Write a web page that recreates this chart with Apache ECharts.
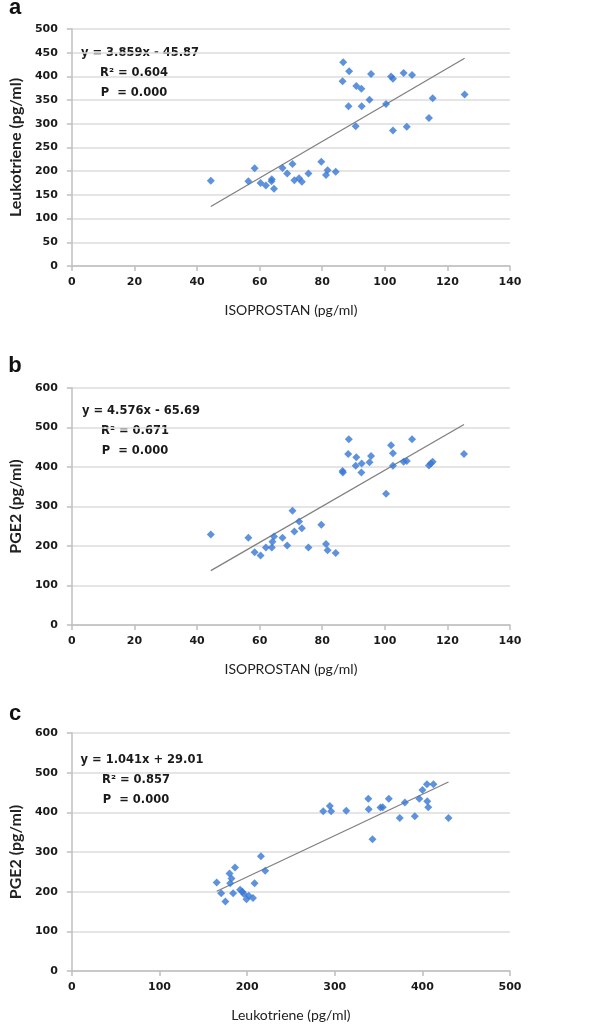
<!DOCTYPE html>
<html>
<head>
<meta charset="utf-8">
<script src="https://cdn.jsdelivr.net/npm/echarts@6/dist/echarts.min.js"></script>
<style>
  html, body { margin: 0; padding: 0; background: #fff; }
  #chart { width: 600px; height: 1029px; }
</style>
</head>
<body>
<div id="chart"></div>
<script>
// panel a: isoprostan (x) vs leukotriene (y)
var isoA = [44.4, 56.4, 58.4, 60.3, 62.0, 63.9, 63.8, 64.6, 67.3, 68.8, 70.5, 71.1, 72.6, 73.5, 75.6, 79.7, 81.2, 81.7, 84.3,
            86.7, 86.5, 88.6, 88.4, 90.7, 90.9, 92.5, 92.6, 95.1, 95.6, 100.4, 102.0, 102.6, 102.6, 106.0, 107.0, 108.7, 114.1, 115.3, 125.5];
var leukoA = [180, 179, 206, 175, 170, 183, 179, 163, 207, 195, 215, 181, 185, 178, 195, 220, 192, 202, 199,
              430, 390, 411, 337, 295, 380, 374, 337, 351, 405, 342, 400, 395, 286, 407, 294, 403, 312, 354, 362];
var trendA = [[44.4, 125.5], [125.5, 438.4]];
var textA = ['y = 3.859x - 45.87', 'R\u00b2 = 0.604', 'P  = 0.000'];

// panel b: isoprostan (x) vs PGE2 (y)
var isoB = [44.4, 56.4, 58.4, 60.3, 62.0, 63.9, 64.1, 64.6, 67.3, 68.8, 70.5, 71.1, 72.6, 73.5, 75.6, 79.7, 81.2, 81.7, 84.3,
            88.5, 86.5, 86.6, 88.3, 90.7, 90.9, 92.5, 92.6, 95.1, 95.6, 100.4, 102.0, 102.6, 102.6, 106.0, 107.0, 108.7, 114.1, 114.7, 115.3, 125.3];
var pgeB = [229, 221, 184, 176, 196, 196, 211, 224, 221, 201, 289, 237, 262, 245, 196, 254, 205, 189, 182,
            470, 390, 386, 433, 403, 425, 386, 409, 412, 428, 332, 455, 435, 403, 413, 415, 470, 404, 409, 413, 433];
var trendB = [[44.4, 137.5], [125.3, 507.7]];
var textB = ['y = 4.576x - 65.69', 'R\u00b2 = 0.671', 'P  = 0.000'];

// panel c: leukotriene (x) vs PGE2 (y)
var leukoC = [165.3, 170.4, 175.2, 180.0, 180.7, 182.2, 184.0, 186.2, 192.0, 194.6, 196.4, 199.3, 201.9, 206.7, 208.5, 215.8, 220.6,
              286.8, 294.4, 295.9, 313.1, 338.3, 338.7, 343.1, 352.2, 354.8, 361.7, 374.2, 380.0, 391.4, 396.5, 400.1, 405.2, 405.6, 406.7, 412.6, 429.8];
var pgeC = [223, 196, 175, 246, 221, 233, 196, 261, 205, 200, 194, 181, 190, 184, 221, 289, 253,
            403, 416, 403, 404, 434, 408, 332, 412, 413, 434, 386, 425, 390, 434, 456, 471, 428, 413, 471, 386];
var trendC = [[165.3, 201.1], [429.8, 476.4]];
var textC = ['y = 1.041x + 29.01', 'R\u00b2 = 0.857', 'P  = 0.000'];

var chart = echarts.init(document.getElementById('chart'));

function pairs(xs, ys) {
    var out = [];
    for (var i = 0; i < xs.length; i++) out.push([xs[i], ys[i]]);
    return out;
}

var font = 'Lato, "Open Sans", sans-serif';
var boldFont = '"DejaVu Sans", Verdana, sans-serif';
var axisGray = '#bfbfbf';

function xAx(idx, max, step, name) {
    return {
        gridIndex: idx, type: 'value', min: 0, max: max, interval: step,
        name: name, nameLocation: 'middle', nameGap: 37,
        nameTextStyle: { color: '#222', fontSize: 14, fontFamily: font },
        axisLine: { lineStyle: { color: axisGray, width: 1.5 } },
        axisTick: { show: true, length: 5, lineStyle: { color: axisGray, width: 1.5 } },
        axisLabel: { color: '#1a1a1a', fontSize: 11, fontWeight: 'bold', fontFamily: boldFont, margin: 11 },
        splitLine: { show: false }
    };
}

function yAx(idx, max, step, name) {
    return {
        gridIndex: idx, type: 'value', min: 0, max: max, interval: step,
        name: name, nameLocation: 'middle', nameGap: 42,
        nameTextStyle: { color: '#222', fontSize: 16, fontWeight: 'bold', fontFamily: font },
        axisLine: { show: true, lineStyle: { color: axisGray, width: 1.5 } },
        axisTick: { show: true, length: 5, lineStyle: { color: axisGray, width: 1.5 } },
        axisLabel: { color: '#1a1a1a', fontSize: 11, fontWeight: 'bold', fontFamily: boldFont, margin: 14 },
        splitLine: { show: true, lineStyle: { color: '#dcdcdc', width: 1.5 } }
    };
}

function scatter(idx, data) {
    return {
        type: 'scatter', xAxisIndex: idx, yAxisIndex: idx, data: data,
        symbol: 'diamond', symbolSize: 8,
        itemStyle: { color: '#3777d3' }, z: 3
    };
}

function trend(idx, data) {
    return {
        type: 'line', xAxisIndex: idx, yAxisIndex: idx, data: data,
        symbol: 'none', lineStyle: { color: '#808080', width: 1.3 }, z: 2, silent: true
    };
}

function note(lines, x, y) {
    var out = [];
    for (var i = 0; i < lines.length; i++) {
        out.push({
            type: 'text', x: i === 0 ? x + 6 : x, y: y + i * 20,
            style: { text: lines[i], fill: '#1a1a1a', font: 'bold 11.5px ' + boldFont, textAlign: 'center', textVerticalAlign: 'middle' }
        });
    }
    return out;
}

function letter(t, x, y) {
    return {
        type: 'text', x: x, y: y,
        style: { text: t, fill: '#111', font: 'bold 22px "Liberation Sans", Arial, sans-serif', textAlign: 'center', textVerticalAlign: 'middle' }
    };
}

var option = {
    backgroundColor: '#fff',
    animation: false,
    grid: [
        { left: 62, top: 29, width: 448, height: 237 },
        { left: 62, top: 388, width: 448, height: 237 },
        { left: 62, top: 733, width: 448, height: 238 }
    ],
    xAxis: [
        xAx(0, 140, 20, 'ISOPROSTAN (pg/ml)'),
        xAx(1, 140, 20, 'ISOPROSTAN (pg/ml)'),
        xAx(2, 500, 100, 'Leukotriene (pg/ml)')
    ],
    yAxis: [
        yAx(0, 500, 50, 'Leukotriene (pg/ml)'),
        yAx(1, 600, 100, 'PGE2 (pg/ml)'),
        yAx(2, 600, 100, 'PGE2 (pg/ml)')
    ],
    series: [
        trend(0, trendA), scatter(0, pairs(isoA, leukoA)),
        trend(1, trendB), scatter(1, pairs(isoB, pgeB)),
        trend(2, trendC), scatter(2, pairs(leukoC, pgeC))
    ],
    graphic: [letter('a', 15, 8), letter('b', 15, 366), letter('c', 15, 714)]
        .concat(note(textA, 134, 53))
        .concat(note(textB, 135, 411))
        .concat(note(textC, 136, 760))
};

chart.setOption(option);
window.addEventListener('resize', chart.resize);
</script>
</body>
</html>
